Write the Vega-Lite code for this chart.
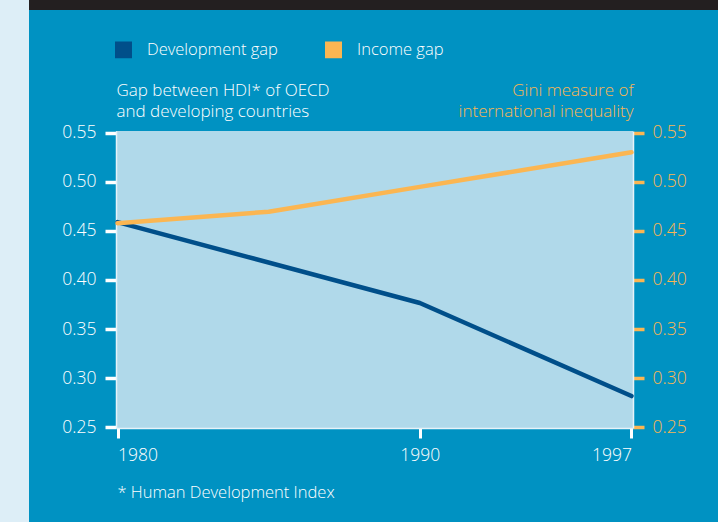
{
  "$schema": "https://vega.github.io/schema/vega-lite/v6.json",
  "padding": 0,
  "background": "#0092c2",
  "bounds": "flush",
  "spacing": 0,
  "config": {"font": "Open Sans", "view": {"stroke": null}, "legend": {"symbolStrokeColor": "#ffffff", "symbolStrokeWidth": 1.5}},
  "hconcat": [
    {"width": 29, "height": 522, "view": {"fill": "#ddeef7", "stroke": null}, "data": {"values": []}, "mark": "point"},
    {
      "spacing": 121,
      "bounds": "flush",
      "vconcat": [
        {"width": 689, "height": 10, "view": {"fill": "#231f20", "stroke": null}, "data": {"values": []}, "mark": "point"},
        {
          "spacing": 0,
          "bounds": "flush",
          "hconcat": [
            {"width": 87, "height": 297, "data": {"values": []}, "mark": "point"},
            {
              "width": 517,
              "height": 297,
              "view": {"fill": "#b0d9ea", "stroke": null},
              "data": {"values": [
                {"year": 1980, "series": "Development gap", "value": 0.459},
                {"year": 1990, "series": "Development gap", "value": 0.3765},
                {"year": 1997, "series": "Development gap", "value": 0.2816},
                {"year": 1980, "series": "Income gap", "value": 0.458},
                {"year": 1985, "series": "Income gap", "value": 0.4697},
                {"year": 1990, "series": "Income gap", "value": 0.495},
                {"year": 1997, "series": "Income gap", "value": 0.5303}
              ]},
              "encoding": {
                "x": {
                  "field": "year", "type": "quantitative",
                  "scale": {"domain": [1979.95, 1997.05], "nice": false, "zero": false},
                  "axis": {
                    "values": [1980, 1990, 1997], "format": "d", "grid": false,
                    "domainColor": "#e6f3f9", "domainWidth": 1.5,
                    "tickColor": "#ffffff", "tickSize": 10, "tickWidth": 3,
                    "labelColor": "#ffffff", "labelFontSize": 17.5, "labelFontWeight": 300, "labelPadding": 8,
                    "labelAlign": {"expr": "datum.value == 1980 ? 'left' : datum.value == 1997 ? 'right' : 'center'"},
                    "title": "* Human Development Index",
                    "titleColor": "#ffffff", "titleFontSize": 16.5, "titleFontWeight": 300,
                    "titleAngle": 0, "titleAlign": "left", "titleBaseline": "alphabetic",
                    "titleAnchor": "start", "titleX": 1, "titleY": 69
                  }
                }
              },
              "layer": [
                {
                  "transform": [{"filter": "datum.series == 'Development gap'"}],
                  "mark": {"type": "line", "strokeWidth": 4.5, "strokeCap": "round", "strokeJoin": "round"},
                  "encoding": {
                    "y": {
                      "field": "value", "type": "quantitative",
                      "scale": {"domain": [0.249, 0.552], "nice": false, "zero": false},
                      "axis": {
                        "orient": "left", "values": [0.25, 0.3, 0.35, 0.4, 0.45, 0.5, 0.55], "format": ".2f", "grid": false,
                        "domainColor": "#e6f3f9", "domainWidth": 1.5,
                        "tickColor": "#ffffff", "tickSize": 11, "tickWidth": 3.5,
                        "labelColor": "#ffffff", "labelFontSize": 17.5, "labelFontWeight": 300, "labelPadding": 9,
                        "title": ["Gap between HDI* of OECD", "and developing countries"],
                        "titleColor": "#ffffff", "titleFontSize": 17, "titleFontWeight": 300,
                        "titleAngle": 0, "titleAlign": "left", "titleBaseline": "alphabetic",
                        "titleX": 0, "titleY": -36, "titleLineHeight": 21
                      }
                    },
                    "color": {
                      "field": "series", "type": "nominal",
                      "scale": {"domain": ["Development gap", "Income gap"], "range": ["#004f8a", "#fbb652"]},
                      "legend": {
                        "orient": "none", "legendX": 115, "legendY": 41, "direction": "horizontal",
                        "title": null, "padding": 0,
                        "symbolType": "square", "symbolSize": 240,
                        "symbolStrokeColor": "#ffffff", "symbolStrokeWidth": 1.5,
                        "labelColor": "#ffffff", "labelFontSize": 16.5, "labelFontWeight": 300, "labelOffset": 15,
                        "columnPadding": 44,
                        "encode": {"symbols": {
                          "update": {
                            "fill": {"signal": "datum.value === 'Development gap' ? '#004f8a' : '#fbb652'"},
                            "stroke": {"value": "#ffffff"},
                            "strokeWidth": {"value": 1.5},
                            "opacity": {"value": 1}
                          }
                        }}
                      }
                    }
                  }
                },
                {
                  "transform": [{"filter": "datum.series == 'Income gap'"}],
                  "mark": {"type": "line", "strokeWidth": 4.5, "strokeCap": "round", "strokeJoin": "round"},
                  "encoding": {
                    "y": {
                      "field": "value", "type": "quantitative",
                      "scale": {"domain": [0.249, 0.552], "nice": false, "zero": false},
                      "axis": {
                        "orient": "right", "values": [0.25, 0.3, 0.35, 0.4, 0.45, 0.5, 0.55], "format": ".2f", "grid": false,
                        "domainColor": "#e6f3f9", "domainWidth": 1.5,
                        "tickColor": "#fbb652", "tickSize": 11, "tickWidth": 3.5,
                        "labelColor": "#fbb652", "labelFontSize": 17.5, "labelFontWeight": 300, "labelPadding": 8,
                        "title": ["Gini measure of", "international inequality"],
                        "titleColor": "#fbb652", "titleFontSize": 17, "titleFontWeight": 300,
                        "titleAngle": 0, "titleAlign": "right", "titleBaseline": "alphabetic",
                        "titleX": 0, "titleY": -36, "titleLineHeight": 21
                      }
                    },
                    "color": {"field": "series", "type": "nominal"}
                  }
                }
              ],
              "resolve": {"scale": {"y": "independent"}}
            }
          ]
        }
      ]
    }
  ]
}
